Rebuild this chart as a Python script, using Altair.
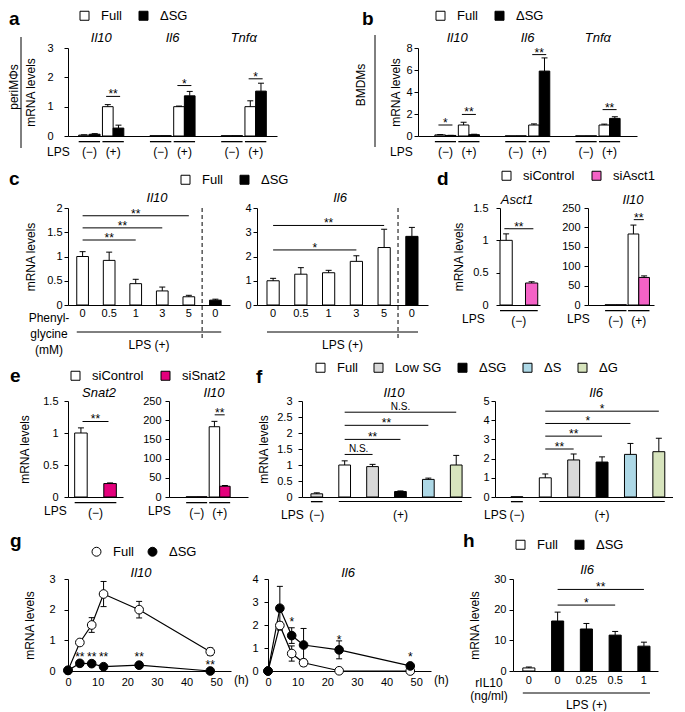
import altair as alt
import pandas as pd

FONT = "Liberation Sans"
MINUS, PLUS = "(−)", "(+)"

# ---------------- DATA ----------------
# a: peritoneal macrophages, Full vs ΔSG
a_groups = ["Il10 −", "Il10 +", "Il6 −", "Il6 +", "Tnfα −", "Tnfα +"]
a_lps = [MINUS, PLUS, MINUS, PLUS, MINUS, PLUS]
a_genes = ["Il10", "Il6", "Tnfα"]
a_full = [0.03, 1.00, 0.01, 1.00, 0.01, 1.00]
a_full_err = [0.01, 0.07, 0.00, 0.02, 0.00, 0.20]
a_dsg = [0.06, 0.27, 0.01, 1.37, 0.01, 1.53]
a_dsg_err = [0.02, 0.10, 0.00, 0.15, 0.00, 0.27]
a_sig_grp = ["Il10 +", "Il6 +", "Tnfα +"]
a_sig_y = [1.35, 1.72, 1.95]
a_sig_lab = ["**", "*", "*"]

# b: BMDMs
b_full = [0.10, 1.00, 0.01, 1.00, 0.01, 1.00]
b_full_err = [0.03, 0.25, 0.00, 0.10, 0.00, 0.08]
b_dsg = [0.05, 0.12, 0.01, 5.90, 0.01, 1.60]
b_dsg_err = [0.01, 0.04, 0.00, 1.20, 0.00, 0.15]
b_sig_grp = ["Il10 −", "Il10 +", "Il6 +", "Tnfα +"]
b_sig_y = [1.00, 1.96, 7.40, 2.40]
b_sig_lab = ["*", "**", "**", "**"]

# c: phenylglycine dose
c_keys = ["0", "0.5", "1", "3", "5", "0 "]
c_cat = ["Full", "Full", "Full", "Full", "Full", "ΔSG"]
c_il10 = [1.00, 0.92, 0.44, 0.29, 0.17, 0.10]
c_il10_err = [0.10, 0.17, 0.09, 0.08, 0.03, 0.02]
c_il6 = [1.00, 1.27, 1.33, 1.80, 2.37, 2.83]
c_il6_err = [0.10, 0.27, 0.10, 0.23, 0.75, 0.37]
c_il10_sig = (["0", "0", "0"], ["1", "3", "5"], [1.34, 1.59, 1.84], ["**", "**", "**"])
c_il6_sig = (["0", "0"], ["3", "5"], [2.27, 3.28], ["*", "**"])

# d: siAsct1
d_geno = ["siControl", "siAsct1"]
d_asct1_ctrl, d_asct1_ctrl_err = [1.00], [0.10]
d_asct1_si, d_asct1_si_err = [0.34], [0.02]
d_il10_ctrl, d_il10_ctrl_err = [0.6, 183.0], [0.0, 23.0]
d_il10_si, d_il10_si_err = [0.6, 71.0], [0.0, 4.0]
d_sig = ([1.18], [220.0])

# e: siSnat2
e_geno = ["siControl", "siSnat2"]
e_snat2_ctrl, e_snat2_ctrl_err = [1.00], [0.08]
e_snat2_si, e_snat2_si_err = [0.21], [0.01]
e_il10_ctrl, e_il10_ctrl_err = [0.6, 183.0], [0.0, 14.0]
e_il10_si, e_il10_si_err = [0.6, 28.0], [0.0, 2.0]
e_sig = ([1.18], [214.0])

# f: media
f_keys = ["−", "Full", "Low SG", "ΔSG", "ΔS", "ΔG"]
f_cat = ["Low SG", "Full", "Low SG", "ΔSG", "ΔS", "ΔG"]
f_il10 = [0.10, 1.00, 0.95, 0.17, 0.55, 1.00]
f_il10_err = [0.03, 0.13, 0.07, 0.02, 0.04, 0.30]
f_il6 = [0.01, 1.00, 1.93, 1.82, 2.22, 2.36]
f_il6_err = [0.00, 0.20, 0.31, 0.27, 0.57, 0.70]
f_il10_sig = (["Full"] * 4, ["Low SG", "ΔSG", "ΔS", "ΔG"], [1.33, 1.80, 2.24, 2.65], ["N.S.", "**", "**", "N.S."])
f_il6_sig = (["Full"] * 4, ["Low SG", "ΔSG", "ΔS", "ΔG"], [2.50, 3.17, 3.83, 4.47], ["**", "**", "*", "*"])

# g: time course
g_time = [0, 4, 8, 12, 24, 48]
g_il10_full = [0.02, 0.93, 1.50, 2.51, 2.00, 0.63]
g_il10_full_err = [0.00, 0.05, 0.24, 0.41, 0.27, 0.12]
g_il10_dsg = [0.02, 0.25, 0.24, 0.14, 0.19, 0.00]
g_il10_dsg_err = [0.00, 0.04, 0.03, 0.03, 0.03, 0.00]
g_il6_full = [0.00, 1.98, 0.76, 0.36, 0.01, 0.00]
g_il6_full_err = [0.00, 0.15, 0.33, 0.15, 0.00, 0.00]
g_il6_dsg = [0.00, 2.73, 1.54, 1.13, 0.92, 0.22]
g_il6_dsg_err = [0.00, 0.95, 0.34, 0.72, 0.39, 0.08]
g_il10_star = ([4, 8, 12, 24, 48], [0.55, 0.55, 0.55, 0.55, 0.30], ["**"] * 5)
g_il6_star = ([8, 24, 48], [2.25, 1.50, 0.72], ["*"] * 3)

# h: rIL10
h_keys = ["0", "0 ", "0.25", "0.5", "1"]
h_cat = ["Full", "ΔSG", "ΔSG", "ΔSG", "ΔSG"]
h_il6 = [1.0, 16.3, 13.7, 11.7, 8.1]
h_il6_err = [0.3, 2.9, 1.8, 1.2, 1.3]
h_sig = (["0 ", "0 "], ["0.5", "1"], [21.5, 26.6], ["*", "**"])

# colours
C_FULL, C_DSG = "#ffffff", "#000000"
C_LOW, C_DS, C_DG = "#d9d9d9", "#add8e6", "#d7e4bd"
C_ASCT1, C_SNAT2 = "#f462c6", "#e4007c"


# ---------------- helpers ----------------
def one(**kw):
    return pd.DataFrame({k: [v] for k, v in kw.items()})


def label(text, x, y, size=12, align="center", baseline="middle", weight="normal", style="normal", angle=0):
    return alt.Chart(one(t=text)).mark_text(
        font=FONT, fontSize=size, align=align, baseline=baseline, fontWeight=weight,
        fontStyle=style, angle=angle, color="black").encode(x=alt.value(x), y=alt.value(y), text="t:N")


def vrule(x, y1, y2, opacity=1.0):
    return alt.Chart(one(t=0)).mark_rule(color="black", strokeWidth=1, opacity=opacity).encode(
        x=alt.value(x), y=alt.value(y1), y2=alt.value(y2))


def frame(left, top, bottom):
    return vrule(left, top, bottom, opacity=0)


def spacer(w):
    return alt.Chart(one(t=0)).mark_text(text="", opacity=0).encode(
        x=alt.value(0), y=alt.value(0)).properties(width=w, height=5)


def band_step(W, n, pi, po):
    return W / max(1.0, n - pi + 2 * po)


def yaxis(vals, H, pad, title=None, tx=-31):
    d = dict(values=vals, tickCount=len(vals), labelExpr="'' + datum.value", labelOverlap=False,
             tickSize=4, tickColor="black", domainColor="black", labelColor="black", labelFont=FONT,
             labelFontSize=11, labelPadding=pad, grid=False)
    if title:
        d.update(title=title, titleFont=FONT, titleFontSize=12, titleFontWeight="normal",
                 titleColor="black", titleX=tx, titleY=H / 2, titleAlign="center", titleBaseline="bottom")
    else:
        d["title"] = None
    return alt.Axis(**d)


def legend(x, y, sym="square", size=81, pad=15):
    return alt.Legend(orient="none", legendX=x, legendY=y, direction="horizontal", title=None,
                      symbolType=sym, symbolSize=size, symbolStrokeColor="black", symbolStrokeWidth=1,
                      labelFont=FONT, labelFontSize=13, labelColor="black", labelOffset=10,
                      columnPadding=pad, padding=0)


def grouped(groups, xdom, lps, series, fill_dom, fill_rng, W, H, ymax, yvals, ypad, ytitle=None, ytx=-31,
            pi=0.1, po=0.45, al=0.5, sub_pi=0.0, leg=None, sig=None, sig_len=14, genes=None):
    rows = []
    for name, vals, errs in series:
        for g, v, e in zip(groups, vals, errs):
            rows.append({"grp": g, "geno": name, "val": v, "err": e, "top": v + e})
    df = pd.DataFrame(rows)
    xs = alt.Scale(domain=xdom, paddingInner=pi, paddingOuter=po, align=al)
    os_ = alt.Scale(domain=[s[0] for s in series], paddingInner=sub_pi, paddingOuter=0)
    ys = alt.Scale(domain=[0, ymax], nice=False)
    X = alt.X("grp:N", scale=xs)
    XO = alt.XOffset("geno:N", scale=os_)
    L = []
    L.append(alt.Chart(df).mark_bar(stroke="black", strokeWidth=1).encode(
        x=alt.X("grp:N", scale=xs, axis=alt.Axis(labels=False, ticks=False, title=None, domainColor="black", grid=False)),
        xOffset=XO,
        y=alt.Y("val:Q", scale=ys, axis=yaxis(yvals, H, ypad, ytitle, ytx)),
        fill=alt.Fill("geno:N", scale=alt.Scale(domain=fill_dom, range=fill_rng), legend=leg)))
    edf = df[df.err > 0]
    L.append(alt.Chart(edf).mark_rule(color="black", strokeWidth=1).encode(
        x=X, xOffset=XO, y=alt.Y("val:Q", scale=ys), y2="top:Q"))
    L.append(alt.Chart(edf).mark_tick(color="black", orient="horizontal", size=6, thickness=1, opacity=1).encode(
        x=X, xOffset=XO, y=alt.Y("top:Q", scale=ys)))
    ldf = pd.DataFrame({"grp": groups, "lab": lps})
    L.append(alt.Chart(ldf).mark_bar(color="black").encode(x=X, y=alt.value(H + 5), y2=alt.value(H + 6.3)))
    L.append(alt.Chart(ldf).mark_text(font=FONT, fontSize=12, color="black", baseline="middle").encode(
        x=X, y=alt.value(H + 16), text="lab:N"))
    if sig is not None:
        sdf = pd.DataFrame({"grp": sig[0], "y": sig[1], "lab": sig[2]})
        L.append(alt.Chart(sdf).mark_tick(color="black", orient="horizontal", size=sig_len, thickness=1, opacity=1).encode(
            x=X, y=alt.Y("y:Q", scale=ys)))
        L.append(alt.Chart(sdf).mark_text(font=FONT, fontSize=12, color="black", baseline="alphabetic", dy=2).encode(
            x=X, y=alt.Y("y:Q", scale=ys), text="lab:N"))
    if genes is not None:
        step = band_step(W, len(xdom), pi, po)
        gdf = pd.DataFrame({"grp": genes[0], "gene": genes[1]})
        L.append(alt.Chart(gdf).mark_text(font=FONT, fontSize=13, fontStyle="italic", color="black",
                                          baseline="middle", xOffset=step * pi / 2).encode(
            x=alt.X("grp:N", scale=xs, bandPosition=1), y=alt.value(-10), text="gene:N"))
    return L


def simple(keys, vals, errs, cats, fill_dom, fill_rng, W, H, ymax, yvals, ypad, ytitle=None, ytx=-31,
           pi=0.56, po=0.33, al=0.5, leg=None, sig=None, xlabels=False, xlabel_pad=2):
    df = pd.DataFrame({"key": keys, "val": vals, "err": errs, "cat": cats})
    df["top"] = df.val + df.err
    xs = alt.Scale(domain=keys, paddingInner=pi, paddingOuter=po, align=al)
    ys = alt.Scale(domain=[0, ymax], nice=False)
    step = band_step(W, len(keys), pi, po)
    X = alt.X("key:N", scale=xs)
    xax = alt.Axis(labels=xlabels, ticks=False, title=None, domainColor="black", grid=False, labelAngle=0,
                   labelFont=FONT, labelFontSize=11, labelColor="black", labelPadding=xlabel_pad,
                   labelOverlap=False)
    L = []
    L.append(alt.Chart(df).mark_bar(stroke="black", strokeWidth=1).encode(
        x=alt.X("key:N", scale=xs, axis=xax),
        y=alt.Y("val:Q", scale=ys, axis=yaxis(yvals, H, ypad, ytitle, ytx)),
        fill=alt.Fill("cat:N", scale=alt.Scale(domain=fill_dom, range=fill_rng), legend=leg)))
    edf = df[df.err > 0]
    L.append(alt.Chart(edf).mark_rule(color="black", strokeWidth=1).encode(
        x=X, y=alt.Y("val:Q", scale=ys), y2="top:Q"))
    L.append(alt.Chart(edf).mark_tick(color="black", orient="horizontal", size=6, thickness=1, opacity=1).encode(
        x=X, y=alt.Y("top:Q", scale=ys)))
    if sig is not None:
        rows = []
        for fr, to, y, lab in zip(*sig):
            i, j = keys.index(fr), keys.index(to)
            rows.append({"fr": fr, "to": to, "y": y, "lab": lab, "mid": keys[(i + j) // 2],
                         "odd": (i + j) % 2, "ns": lab == "N.S."})
        sdf = pd.DataFrame(rows)
        L.append(alt.Chart(sdf).mark_rule(color="black", strokeWidth=1).encode(
            x=alt.X("fr:N", scale=xs, bandPosition=0.5), x2=alt.X2("to:N", bandPosition=0.5),
            y=alt.Y("y:Q", scale=ys)))
        for odd in (0, 1):
            for ns in (False, True):
                sub = sdf[(sdf.odd == odd) & (sdf.ns == ns)]
                if len(sub) == 0:
                    continue
                bp = 0.5 if odd == 0 else 1.0
                xo = 0.0 if odd == 0 else step * pi / 2
                L.append(alt.Chart(sub).mark_text(
                    font=FONT, fontSize=10 if ns else 12, color="black", baseline="alphabetic",
                    dy=-2 if ns else 2, xOffset=xo).encode(
                    x=alt.X("mid:N", scale=xs, bandPosition=bp),
                    y=alt.Y("y:Q", scale=ys), text="lab:N"))
    return L, xs, step


def span_rule(xs, a, b, y, bpa=0.0, bpb=1.0):
    return alt.Chart(one(a=a, b=b)).mark_rule(color="black", strokeWidth=1).encode(
        x=alt.X("a:N", scale=xs, bandPosition=bpa), x2=alt.X2("b:N", bandPosition=bpb), y=alt.value(y))


def dashed_sep(xs, k, xoff, bottom):
    return alt.Chart(one(k=k)).mark_rule(color="black", strokeWidth=1, strokeDash=[4, 3], xOffset=xoff).encode(
        x=alt.X("k:N", scale=xs, bandPosition=1), y=alt.value(0), y2=alt.value(bottom))


def key_text(xs, k, bp, y, text, xoff=0.0, size=12):
    return alt.Chart(one(k=k, t=text)).mark_text(font=FONT, fontSize=size, color="black", baseline="middle",
                                                  xOffset=xoff).encode(
        x=alt.X("k:N", scale=xs, bandPosition=bp), y=alt.value(y), text="t:N")


def lines(t, full, full_err, dsg, dsg_err, star, W, H, ymax, yvals, ypad, ytitle=None, leg=None):
    rows = []
    for name, vals, errs in (("Full", full, full_err), ("ΔSG", dsg, dsg_err)):
        for ti, v, e in zip(t, vals, errs):
            rows.append({"t": ti, "geno": name, "val": v, "err": e, "lo": v - e, "hi": v + e})
    df = pd.DataFrame(rows)
    xs = alt.Scale(domain=[0, 55], nice=False, zero=False)
    ys = alt.Scale(domain=[0, ymax], nice=False)
    xvals = [0, 10, 20, 30, 40, 50]
    xax = alt.Axis(values=xvals, tickCount=len(xvals), ticks=False, title=None, grid=False, domainColor="black",
                   labelFont=FONT, labelFontSize=11, labelColor="black", labelPadding=5, labelFlush=False,
                   labelOverlap=False)
    X = alt.X("t:Q", scale=xs)
    edf = df[df.err > 0]
    L = [
        alt.Chart(df).mark_line(color="black", strokeWidth=1.2).encode(
            x=alt.X("t:Q", scale=xs, axis=xax),
            y=alt.Y("val:Q", scale=ys, axis=yaxis(yvals, H, ypad, ytitle, -32)), detail="geno:N"),
        alt.Chart(edf).mark_rule(color="black", strokeWidth=1).encode(
            x=X, y=alt.Y("lo:Q", scale=ys), y2="hi:Q"),
        alt.Chart(edf).mark_tick(color="black", orient="horizontal", size=6, thickness=1, opacity=1).encode(
            x=X, y=alt.Y("hi:Q", scale=ys)),
        alt.Chart(edf).mark_tick(color="black", orient="horizontal", size=6, thickness=1, opacity=1).encode(
            x=X, y=alt.Y("lo:Q", scale=ys)),
        alt.Chart(df).mark_point(filled=True, size=75, stroke="black", strokeWidth=1, opacity=1).encode(
            x=X, y=alt.Y("val:Q", scale=ys),
            fill=alt.Fill("geno:N", scale=alt.Scale(domain=["Full", "ΔSG"], range=[C_FULL, C_DSG]), legend=leg)),
        alt.Chart(pd.DataFrame({"t": star[0], "y": star[1], "lab": star[2]})).mark_text(
            font=FONT, fontSize=12, color="black", baseline="middle", dy=3).encode(
            x=X, y=alt.Y("y:Q", scale=ys), text="lab:N"),
        label("(h)", W + 3, H + 9, size=12, align="left"),
    ]
    return L


def sep3(groups):
    return [groups[0], groups[1], "sp1", groups[2], groups[3], "sp2", groups[4], groups[5]]


# ---------------- ROW 1 ----------------
W_A, W_B, H1 = 209, 219, 88
a_layers = grouped(a_groups, sep3(a_groups), a_lps,
                   [("Full", a_full, a_full_err), ("ΔSG", a_dsg, a_dsg_err)],
                   ["Full", "ΔSG"], [C_FULL, C_DSG], W_A, H1, 3, [0, 1, 2, 3], 11, "mRNA levels", -31,
                   pi=0.1, po=0.45, leg=legend(10, -39),
                   sig=(a_sig_grp, a_sig_y, a_sig_lab), sig_len=14, genes=(a_groups[0::2], a_genes))
panel_a = alt.layer(
    frame(-60, -40, 117), *a_layers,
    label("a", -59, -23, size=19, align="left", baseline="alphabetic", weight="bold"),
    label("periMΦs", -54, 39, size=12, angle=270),
    vrule(-47, -11, 100),
    label("LPS", -21, H1 + 16, align="left"),
).properties(width=W_A, height=H1)

b_layers = grouped(a_groups, sep3(a_groups), a_lps,
                   [("Full", b_full, b_full_err), ("ΔSG", b_dsg, b_dsg_err)],
                   ["Full", "ΔSG"], [C_FULL, C_DSG], W_B, H1, 8, [0, 2, 4, 6, 8], 2, "mRNA levels", -16,
                   pi=0.1, po=0.72, leg=legend(16, -39),
                   sig=(b_sig_grp, b_sig_y, b_sig_lab), sig_len=14, genes=(a_groups[0::2], a_genes))
panel_b = alt.layer(
    *b_layers,
    label("b", -56, -23, size=19, align="left", baseline="alphabetic", weight="bold"),
    label("BMDMs", -57, 37, size=12, angle=270),
    vrule(-43, -13, 99),
    label("LPS", -28, H1 + 16, align="left"),
).properties(width=W_B, height=H1)

row1 = alt.hconcat(panel_a, spacer(141), panel_b, spacing=0, bounds="flush")

# ---------------- ROW 2 ----------------
H2 = 97
W_C1, W_C2, W_D1, W_D2 = 162, 171, 40, 66
c1_layers, c1_xs, c1_step = simple(c_keys, c_il10, c_il10_err, c_cat, ["Full", "ΔSG"], [C_FULL, C_DSG], W_C1, H2,
                                   2, [0, 0.5, 1, 1.5, 2], 2, "mRNA levels", -31, pi=0.56, po=0.33,
                                   leg=legend(111, -35), sig=c_il10_sig, xlabels=True, xlabel_pad=2)
panel_c1 = alt.layer(
    frame(-60, -43, 149), *c1_layers,
    span_rule(c1_xs, "0", "0 ", H2 + 27),
    dashed_sep(c1_xs, "5", c1_step * 0.56 / 2, H2 + 33),
    key_text(c1_xs, "1", 1.0, H2 + 40, "LPS (+)", xoff=c1_step * 0.56 / 2),
    label("c", -59, -23, size=19, align="left", baseline="alphabetic", weight="bold"),
    label("Il10", 89, -10, size=13, style="italic"),
    label("Phenyl-", -19, H2 + 13), label("glycine", -19, H2 + 29), label("(mM)", -19, H2 + 45),
).properties(width=W_C1, height=H2)

c2_layers, c2_xs, c2_step = simple(c_keys, c_il6, c_il6_err, c_cat, ["Full", "ΔSG"], [C_FULL, C_DSG], W_C2, H2,
                                   4, [0, 1, 2, 3, 4], 2, None, pi=0.56, po=0.36, leg=None, sig=c_il6_sig,
                                   xlabels=True, xlabel_pad=2)
panel_c2 = alt.layer(
    *c2_layers,
    span_rule(c2_xs, "0", "0 ", H2 + 27),
    dashed_sep(c2_xs, "5", c2_step * 0.56 / 2, H2 + 33),
    key_text(c2_xs, "1", 1.0, H2 + 40, "LPS (+)", xoff=c2_step * 0.56 / 2),
    label("Il6", 83, -10, size=13, style="italic"),
).properties(width=W_C2, height=H2)

d1_layers = grouped(["−"], ["−"], [MINUS],
                    [(d_geno[0], d_asct1_ctrl, d_asct1_ctrl_err), (d_geno[1], d_asct1_si, d_asct1_si_err)],
                    d_geno, [C_FULL, C_ASCT1], W_D1, H2, 1.5, [0, 0.5, 1, 1.5], 8, "mRNA levels", -35,
                    pi=0.0, po=0.03, al=0.0, sub_pi=0.52, leg=legend(0, -39),
                    sig=(["−"], d_sig[0], ["**"]), sig_len=29)
panel_d1 = alt.layer(
    *d1_layers,
    label("d", -63, -23, size=19, align="left", baseline="alphabetic", weight="bold"),
    label("Asct1", 17, -8, size=13, style="italic"),
    label("LPS", -38, H2 + 14, align="left"),
).properties(width=W_D1, height=H2)

d2_layers = grouped(["−", "+"], ["−", "+"], [MINUS, PLUS],
                    [(d_geno[0], d_il10_ctrl, d_il10_ctrl_err), (d_geno[1], d_il10_si, d_il10_si_err)],
                    d_geno, [C_FULL, C_ASCT1], W_D2, H2, 250, [0, 50, 100, 150, 200, 250], 4, None,
                    pi=0.07, po=0.47, al=0.79, sub_pi=0.0, leg=None,
                    sig=(["+"], d_sig[1], ["**"]), sig_len=10)
panel_d2 = alt.layer(
    *d2_layers,
    label("Il10", 45, -8, size=13, style="italic"),
    label("LPS", -21, H2 + 14, align="left"),
).properties(width=W_D2, height=H2)

row2 = alt.hconcat(panel_c1, spacer(27), panel_c2, spacer(72), panel_d1, spacer(48), panel_d2,
                   spacing=0, bounds="flush")

# ---------------- ROW 3 ----------------
H3 = 96
W_E1, W_E2, W_F1, W_F2 = 55, 79, 169, 178
e1_layers = grouped(["−"], ["−"], [MINUS],
                    [(e_geno[0], e_snat2_ctrl, e_snat2_ctrl_err), (e_geno[1], e_snat2_si, e_snat2_si_err)],
                    e_geno, [C_FULL, C_SNAT2], W_E1, H3, 1.5, [0, 0.5, 1, 1.5], 6, "mRNA levels", -37,
                    pi=0.0, po=0.16, al=0.5, sub_pi=0.57, leg=legend(1, -32),
                    sig=(["−"], e_sig[0], ["**"]), sig_len=26)
panel_e1 = alt.layer(
    frame(-59, -44, 124), *e1_layers,
    label("e", -58, -19, size=19, align="left", baseline="alphabetic", weight="bold"),
    label("Snat2", 31, -8, size=13, style="italic"),
    label("LPS", -24, H3 + 14, align="left"),
).properties(width=W_E1, height=H3)

e2_layers = grouped(["−", "+"], ["−", "+"], [MINUS, PLUS],
                    [(e_geno[0], e_il10_ctrl, e_il10_ctrl_err), (e_geno[1], e_il10_si, e_il10_si_err)],
                    e_geno, [C_FULL, C_SNAT2], W_E2, H3, 250, [0, 50, 100, 150, 200, 250], 4, None,
                    pi=0.09, po=0.76, al=0.49, sub_pi=0.0, leg=None,
                    sig=(["+"], e_sig[1], ["**"]), sig_len=10)
panel_e2 = alt.layer(
    *e2_layers,
    label("Il10", 45, -8, size=13, style="italic"),
    label("LPS", -21, H3 + 14, align="left"),
).properties(width=W_E2, height=H3)

F_DOM = ["Full", "Low SG", "ΔSG", "ΔS", "ΔG"]
F_RNG = [C_FULL, C_LOW, C_DSG, C_DS, C_DG]
f1_layers, f1_xs, f1_step = simple(f_keys, f_il10, f_il10_err, f_cat, F_DOM, F_RNG, W_F1, H3, 3,
                                   [0, 0.5, 1, 1.5, 2, 2.5, 3], 6, "mRNA levels", -32, pi=0.58, po=0.32,
                                   leg=legend(12, -40, pad=14), sig=f_il10_sig)
panel_f1 = alt.layer(
    *f1_layers,
    alt.Chart(one(k="−")).mark_bar(color="black").encode(
        x=alt.X("k:N", scale=f1_xs), y=alt.value(H3 + 4), y2=alt.value(H3 + 5.3)),
    span_rule(f1_xs, "Full", "ΔG", H3 + 4.5),
    key_text(f1_xs, "−", 0.5, H3 + 18, MINUS),
    key_text(f1_xs, "ΔSG", 0.5, H3 + 18, PLUS),
    label("f", -46, -18, size=19, align="left", baseline="alphabetic", weight="bold"),
    label("Il10", 92, -8, size=13, style="italic"),
    label("LPS", -21, H3 + 18, align="left"),
).properties(width=W_F1, height=H3)

f2_layers, f2_xs, f2_step = simple(f_keys, f_il6, f_il6_err, f_cat, F_DOM, F_RNG, W_F2, H3, 5,
                                   [0, 1, 2, 3, 4, 5], 2, None, pi=0.58, po=0.425, al=0.66,
                                   leg=None, sig=f_il6_sig)
panel_f2 = alt.layer(
    *f2_layers,
    alt.Chart(one(k="−")).mark_bar(color="black").encode(
        x=alt.X("k:N", scale=f2_xs), y=alt.value(H3 + 4), y2=alt.value(H3 + 5.3)),
    span_rule(f2_xs, "Full", "ΔG", H3 + 4.5),
    key_text(f2_xs, "−", 0.5, H3 + 18, MINUS),
    key_text(f2_xs, "ΔSG", 0.5, H3 + 18, PLUS),
    label("Il6", 101, -8, size=13, style="italic"),
    label("LPS", -11, H3 + 18, align="left"),
).properties(width=W_F2, height=H3)

row3 = alt.hconcat(panel_e1, spacer(46), panel_e2, spacer(54), panel_f1, spacer(24), panel_f2,
                   spacing=0, bounds="flush")

# ---------------- ROW 4 ----------------
H4 = 92
W_G, W_H = 163, 145
g1_layers = lines(g_time, g_il10_full, g_il10_full_err, g_il10_dsg, g_il10_dsg_err, g_il10_star,
                  W_G, H4, 3, [0, 1, 2, 3], 9, "mRNA levels",
                  leg=legend(22, -34, sym="circle", size=80, pad=12))
panel_g1 = alt.layer(
    frame(-59, -54, 125), *g1_layers,
    label("g", -58, -32, size=19, align="left", baseline="alphabetic", weight="bold"),
    label("Il10", 73, -6, size=13, style="italic"),
).properties(width=W_G, height=H4)

g2_layers = lines(g_time, g_il6_full, g_il6_full_err, g_il6_dsg, g_il6_dsg_err, g_il6_star,
                  W_G, H4, 4, [0, 1, 2, 3, 4], 6, None, leg=None)
panel_g2 = alt.layer(
    *g2_layers,
    label("Il6", 80, -6, size=13, style="italic"),
).properties(width=W_G, height=H4)

h_layers, h_xs, h_step = simple(h_keys, h_il6, h_il6_err, h_cat, ["Full", "ΔSG"], [C_FULL, C_DSG], W_H, H4, 30,
                                [0, 10, 20, 30], 3, "mRNA levels", -32, pi=0.58, po=0.31, al=0.55,
                                leg=legend(1, -41), sig=h_sig, xlabels=True, xlabel_pad=3)
panel_h = alt.layer(
    *h_layers,
    span_rule(h_xs, "0", "1", H4 + 22),
    key_text(h_xs, "0.25", 0.5, H4 + 34, "LPS (+)"),
    label("h", -50, -32, size=19, align="left", baseline="alphabetic", weight="bold"),
    label("Il6", 74, -9, size=13, style="italic"),
    label("rIL10", -24, H4 + 12), label("(ng/ml)", -24, H4 + 25),
).properties(width=W_H, height=H4)

row4 = alt.hconcat(panel_g1, spacer(37), panel_g2, spacer(82), panel_h, spacing=0, bounds="flush")

RES = dict(x="independent", y="independent", fill="independent", xOffset="independent")
rows = [r.resolve_scale(**RES).resolve_legend(fill="independent") for r in (row1, row2, row3, row4)]

chart = alt.vconcat(*rows, spacing=0).resolve_scale(**RES).resolve_legend(fill="independent").properties(
    padding={"left": 0, "top": 0, "right": 0, "bottom": 0}
).configure(font=FONT).configure_view(stroke=None)

chart.save("out.html", embed_options={"renderer": "svg", "actions": False})
